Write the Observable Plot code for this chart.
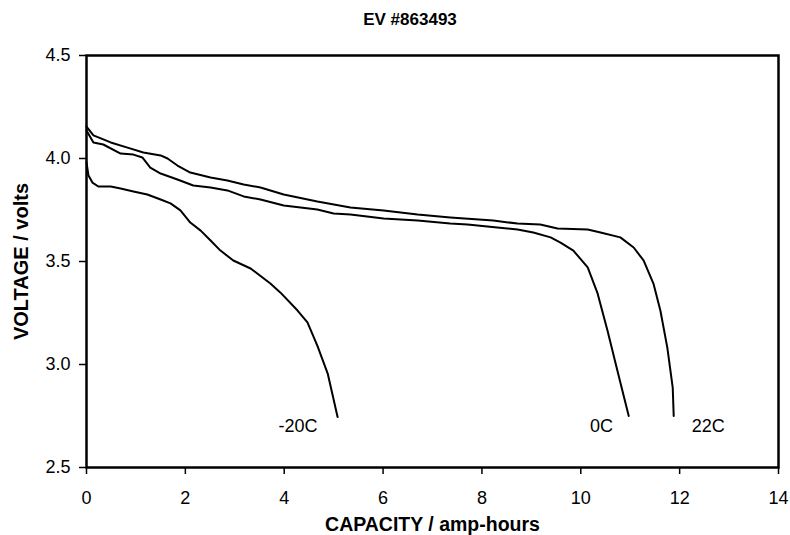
<!DOCTYPE html>
<html>
<head>
<meta charset="utf-8">
<script src="https://cdn.jsdelivr.net/npm/d3@7"></script>
<script src="https://cdn.jsdelivr.net/npm/@observablehq/plot@0.6"></script>
<style>
  html, body { margin: 0; padding: 0; background: #fff; }
  #wrap { position: relative; width: 790px; height: 535px; font-family: "Liberation Sans", Arial, sans-serif; }
  #title { position: relative; height: 40px; }
  #title span { position: absolute; left: 410px; top: 12px; transform: translateX(-50%); font-size: 17px; line-height: 16px; font-weight: bold; color: #000; white-space: nowrap; }
  svg { display: block; }
</style>
</head>
<body>
<div id="wrap">
  <div id="title"><span>EV #863493</span></div>
  <div id="chart"></div>
</div>
<script>
// Series: 22C
const cap22 = [0, 0.14, 0.49, 0.83, 1.15, 1.50, 1.64, 1.84, 2.10, 2.51, 2.85, 3.18, 3.52, 3.99, 4.67, 5.34, 6.01, 6.70, 7.36, 8.23, 8.72, 9.18, 9.53, 10.14, 10.40, 10.80, 11.07, 11.27, 11.47, 11.61, 11.75, 11.86, 11.88];
const volt22 = [4.155, 4.112, 4.078, 4.053, 4.029, 4.015, 4.000, 3.966, 3.932, 3.908, 3.893, 3.874, 3.859, 3.825, 3.791, 3.762, 3.748, 3.728, 3.714, 3.699, 3.684, 3.680, 3.660, 3.655, 3.641, 3.617, 3.568, 3.505, 3.393, 3.262, 3.083, 2.888, 2.750];
// Series: 0C
const cap0 = [0, 0.14, 0.34, 0.69, 0.95, 1.13, 1.29, 1.50, 1.84, 2.16, 2.51, 2.85, 3.18, 3.52, 3.99, 4.67, 5.00, 5.34, 6.01, 6.70, 7.36, 7.71, 8.31, 8.72, 9.04, 9.39, 9.59, 9.85, 10.14, 10.34, 10.54, 10.74, 10.97];
const volt0 = [4.136, 4.078, 4.068, 4.024, 4.019, 4.005, 3.956, 3.927, 3.898, 3.869, 3.859, 3.845, 3.816, 3.801, 3.772, 3.752, 3.733, 3.728, 3.709, 3.699, 3.684, 3.680, 3.665, 3.655, 3.641, 3.617, 3.592, 3.553, 3.471, 3.345, 3.165, 2.971, 2.750];
// Series: -20C
const capM20 = [0, 0.04, 0.12, 0.24, 0.49, 0.69, 0.95, 1.23, 1.50, 1.70, 1.90, 2.10, 2.31, 2.51, 2.71, 2.97, 3.32, 3.72, 3.92, 4.27, 4.47, 4.67, 4.88, 5.08];
const voltM20 = [3.981, 3.917, 3.883, 3.864, 3.864, 3.854, 3.840, 3.825, 3.801, 3.782, 3.748, 3.689, 3.650, 3.602, 3.553, 3.505, 3.466, 3.393, 3.350, 3.262, 3.204, 3.092, 2.956, 2.745];

const seriesNames = ["22C", "0C", "-20C"];
const labelX = [12.58, 10.42, 4.28];
const labelY = [2.70, 2.70, 2.70];

const xTicks = [0, 2, 4, 6, 8, 10, 12, 14];
const yTicks = [2.5, 3.0, 3.5, 4.0, 4.5];

const rows = [];
[[cap22, volt22], [cap0, volt0], [capM20, voltM20]].forEach(([xs, ys], i) => {
  xs.forEach((x, j) => rows.push({series: seriesNames[i], x, y: ys[j]}));
});
const labels = seriesNames.map((s, i) => ({s, x: labelX[i], y: labelY[i]}));

const chart = Plot.plot({
  width: 790,
  height: 495,
  marginTop: 15,
  marginBottom: 68,
  marginLeft: 86,
  marginRight: 12,
  style: {fontFamily: "'Liberation Sans', Arial, sans-serif", fontSize: "18px", color: "#000", background: "#fff", overflow: "visible"},
  x: {domain: [0, 14]},
  y: {domain: [2.5, 4.5]},
  marks: [
    Plot.axisX({ticks: xTicks, tickSize: 7, tickPadding: 17, fontSize: 18, strokeWidth: 1.5, label: null}),
    Plot.axisY({ticks: yTicks, tickSize: 7, tickPadding: 9, fontSize: 18, strokeWidth: 1.5, tickFormat: d3.format(".1f"), label: null}),
    Plot.line(rows, {x: "x", y: "y", z: "series", stroke: "#000", strokeWidth: 2, curve: "linear"}),
    Plot.text(labels, {x: "x", y: "y", text: "s", fontSize: 18, fill: "#000"}),
    Plot.frame({stroke: "#000", strokeWidth: 2.5}),
    Plot.text(["CAPACITY / amp-hours"], {frameAnchor: "bottom", lineAnchor: "middle", dy: 57, fontSize: 19.5, fontWeight: "bold", fill: "#000"}),
    Plot.text(["VOLTAGE / volts"], {frameAnchor: "left", lineAnchor: "middle", textAnchor: "middle", rotate: -90, dx: -65, fontSize: 20, fontWeight: "bold", fill: "#000"})
  ]
});
document.getElementById("chart").appendChild(chart);
</script>
</body>
</html>
